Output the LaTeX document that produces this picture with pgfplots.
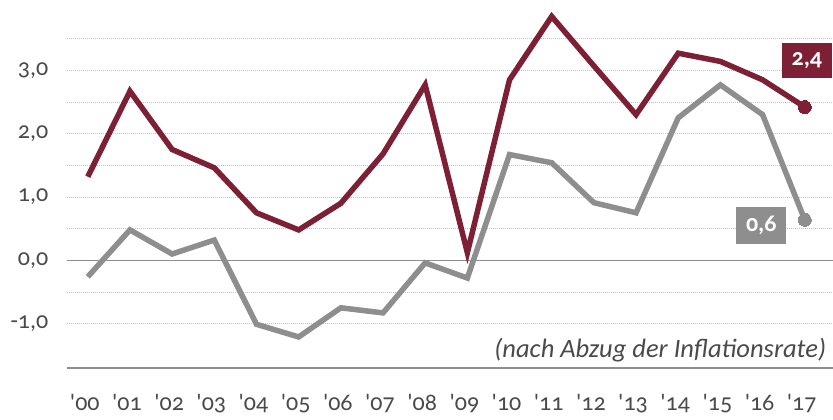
\documentclass[border=0pt]{standalone}
\usepackage{pgfplots}
\pgfplotsset{compat=1.18}
\usepackage{fontspec}
\setmainfont{Carlito}[Numbers=OldStyle]
\definecolor{wine}{HTML}{7D1F35}
\definecolor{lgray}{HTML}{8E8E8E}
\definecolor{txt}{HTML}{4A4A4A}
\definecolor{gridc}{HTML}{C4C4C4}
\newcommand{\q}{\textquotesingle}
\begin{document}
\begin{tikzpicture}
\begin{axis}[
  at={(66.7pt,52pt)}, anchor=south west,
  scale only axis, width=766.3pt, height=368pt,
  xmin=-0.5, xmax=17.67, ymin=-1.70, ymax=4.11,
  axis x line*=bottom, axis y line*=left,
  y axis line style={draw=none},
  x axis line style={draw=lgray, line width=1.2pt},
  xtick={0,...,17},
  xticklabels={\q00,\q01,\q02,\q03,\q04,\q05,\q06,\q07,\q08,\q09,\q10,\q11,\q12,\q13,\q14,\q15,\q16,\q17},
  x tick style={draw=none},
  x tick label style={font=\fontsize{24}{24}\selectfont, text=txt, yshift=-23pt, xshift=-3pt},
  extra x ticks={-0.5,0.5,...,16.5},
  extra x tick labels={},
  extra x tick style={tick align=outside, major tick length=18pt, tick style={draw=lgray, line width=1.2pt}, grid=none},
  ytick={-1,0,1,2,3},
  yticklabels={{-1,0},{0,0},{1,0},{2,0},{3,0}},
  minor ytick={-0.5,0.5,1.5,2.5,3.5},
  y tick style={draw=none},
  y tick label style={font=\fontsize{24}{24}\selectfont, text=txt, xshift=-15pt},
  ymajorgrids, yminorgrids,
  major grid style={draw=gridc, line width=0.9pt, dash pattern=on 1pt off 1pt},
  minor grid style={draw=gridc, line width=0.9pt, dash pattern=on 1pt off 1pt},
  clip=false,
]
\draw[lgray, line width=1.2pt] (axis cs:-0.5,0) -- (axis cs:17.67,0);
\addplot[lgray, line width=5.5pt, mark=*, mark indices={18}, mark size=6.5pt, mark options={fill=lgray, draw=lgray, line width=0pt}] coordinates {
(0,-0.26) (1,0.48) (2,0.10) (3,0.32) (4,-1.01) (5,-1.21) (6,-0.75) (7,-0.83) (8,-0.04)
(9,-0.28) (10,1.67) (11,1.54) (12,0.91) (13,0.75) (14,2.25) (15,2.77) (16,2.30) (17,0.64)
};
\addplot[wine, line width=5.5pt, mark=*, mark indices={18}, mark size=6.5pt, mark options={fill=wine, draw=wine, line width=0pt}] coordinates {
(0,1.32) (1,2.67) (2,1.75) (3,1.46) (4,0.75) (5,0.48) (6,0.90) (7,1.68) (8,2.77)
(9,0.12) (10,2.85) (11,3.85) (12,3.07) (13,2.30) (14,3.27) (15,3.14) (16,2.85) (17,2.42)
};
\node[fill=wine, text=white, minimum width=50pt, minimum height=35pt, inner sep=0pt, font=\fontsize{24}{24}\selectfont\bfseries] at (axis cs:17.05,3.15) {2,4};
\node[fill=lgray, text=white, minimum width=50pt, minimum height=37pt, inner sep=0pt, font=\fontsize{24}{24}\selectfont\bfseries] at (axis cs:15.97,0.555) {0,6};
\node[anchor=east, text=txt, font=\fontsize{26.5}{26.5}\selectfont\itshape, inner sep=0pt] at (axis cs:17.51,-1.41) {(nach Abzug der Inflationsrate)};
\end{axis}
\pgfresetboundingbox
\path[use as bounding box] (0,0) rectangle (833pt,420pt);
\end{tikzpicture}
\end{document}
